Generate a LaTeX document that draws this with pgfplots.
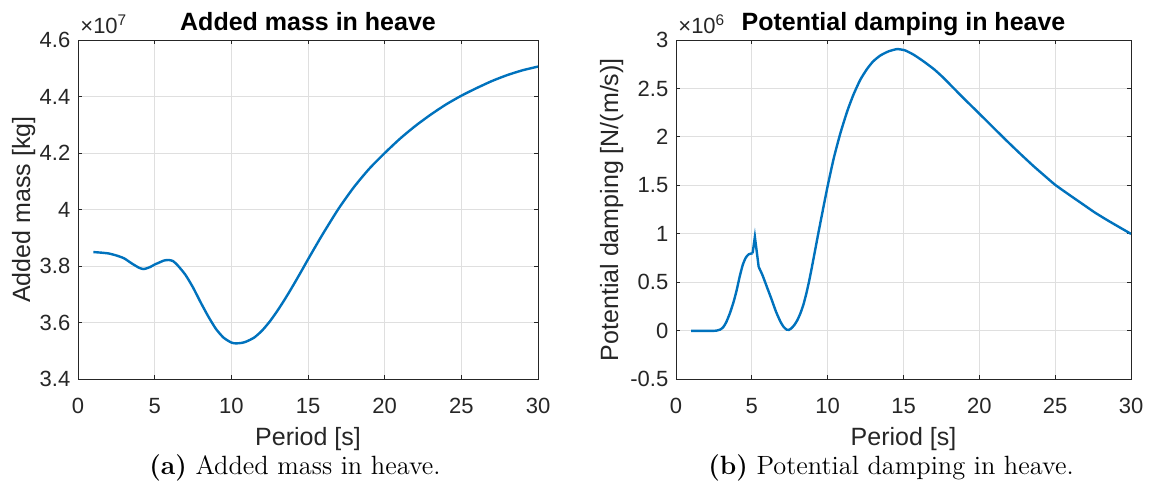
\documentclass[border=0pt]{standalone}
\usepackage{pgfplots}
\pgfplotsset{compat=1.18}
\usepackage{fontspec}
\newfontfamily\arialfont{Liberation Sans}
\definecolor{mblue}{RGB}{0,114,189}
\definecolor{axgray}{RGB}{38,38,38}
\definecolor{gridgray}{RGB}{223,223,223}
\newcommand{\tickfont}{\arialfont\fontsize{11}{13}\selectfont}
\newcommand{\labfont}{\arialfont\fontsize{12.5}{15}\selectfont}
\pgfplotsset{
 mstyle/.style={
  scale only axis, height=169.65pt,
  anchor=south west,
  xmin=0, xmax=30, xtick={0,5,10,15,20,25,30},
  axis line style={axgray, line width=0.5pt},
  tick style={axgray, line width=0.5pt}, major tick length=2.2pt,
  tick align=inside,
  grid=major, grid style={gridgray, line width=0.5pt},
  /pgf/number format/assume math mode=true,
  scaled ticks=false,
  tick label style={font=\tickfont, text=axgray},
  xticklabel style={anchor=base, yshift=-16.85pt},
  yticklabel style={anchor=east, inner sep=0pt, xshift=-3.65pt},
  every axis x label/.style={at={(rel axis cs:0.5,0)}, anchor=base, yshift=-32.9pt, font=\labfont, text=axgray},
  every axis y label/.style={at={(rel axis cs:0,0.5)}, rotate=90, anchor=base, font=\labfont, text=axgray},
  every axis title/.style={at={(rel axis cs:0.5,1)}, anchor=base, yshift=4.65pt, font=\arialfont\bfseries\fontsize{12.5}{15}\selectfont},
  clip mode=individual,
 }
}
\begin{document}
\begin{tikzpicture}
\useasboundingbox (0,0) rectangle (574.5pt,244pt);
\begin{axis}[mstyle, width=230pt, at={(39pt,54.35pt)},
  ymin=3.4, ymax=4.6, ytick={3.4,3.6,3.8,4,4.2,4.4,4.6},
  title={Added mass in heave}, xlabel={Period [s]}, ylabel={Added mass [kg]},
  ylabel style={yshift=24pt}]
\addplot[mblue, line width=1.2pt, smooth, tension=0.4] table {
1 3.850
1.5 3.848
2 3.845
2.5 3.838
3 3.828
3.5 3.810
4 3.794
4.3 3.790
4.7 3.797
5 3.806
5.3 3.813
5.6 3.820
5.9 3.822
6.2 3.818
6.5 3.803
7 3.770
7.5 3.725
8 3.672
8.5 3.622
9 3.578
9.5 3.547
10 3.530
10.3 3.527
10.7 3.529
11 3.534
11.5 3.548
12 3.572
12.5 3.604
13 3.642
13.5 3.684
14 3.729
14.5 3.776
15 3.824
15.5 3.871
16 3.917
17 4.004
18 4.080
19 4.145
20 4.200
21 4.251
22 4.296
23 4.336
24 4.372
25 4.403
26 4.430
27 4.455
28 4.476
29 4.493
30 4.506
};
\node[anchor=base west, font=\tickfont, text=axgray, inner sep=0pt] at (rel axis cs:0,1) [xshift=1pt, yshift=3.5pt] {×10\textsuperscript{7}};
\end{axis}
\begin{axis}[mstyle, width=227.5pt, at={(338pt,54.35pt)},
  ymin=-0.5, ymax=3, ytick={-0.5,0,0.5,1,1.5,2,2.5,3},
  title={Potential damping in heave}, xlabel={Period [s]}, ylabel={Potential damping [N/(m/s)]},
  ylabel style={yshift=29pt}]
\addplot[mblue, line width=1.2pt, smooth, tension=0.35] table {
1 0
2.5 0
2.7 0.003
2.9 0.012
3.1 0.035
3.3 0.085
3.55 0.18
3.8 0.30
4.0 0.42
4.2 0.56
4.4 0.68
4.6 0.755
4.8 0.79
5.05 0.80
};
\addplot[mblue, line width=1.2pt] table {
5.05 0.80
5.2 0.97
5.45 0.66
};
\addplot[mblue, line width=1.2pt, smooth, tension=0.35] table {
5.45 0.66
5.7 0.575
6.0 0.45
6.3 0.325
6.6 0.195
6.9 0.09
7.1 0.04
7.3 0.012
7.45 0.01
7.6 0.025
7.8 0.06
8.0 0.11
8.2 0.18
8.4 0.27
8.6 0.39
8.8 0.53
9.0 0.69
9.2 0.855
9.4 1.02
9.7 1.26
10.0 1.495
10.4 1.78
10.84 2.04
11.3 2.27
11.71 2.44
12.15 2.59
12.59 2.70
13.0 2.78
13.47 2.84
14.0 2.882
14.57 2.906
15.1 2.893
15.67 2.848
16.3 2.782
17.0 2.70
17.6 2.615
18.3 2.504
19.1 2.378
20.0 2.240
20.9 2.100
21.82 1.958
22.7 1.826
23.58 1.698
24.3 1.600
25 1.506
26 1.395
26.88 1.30
27.6 1.222
28.4 1.145
29.2 1.072
30 1.0
};
\node[anchor=base west, font=\tickfont, text=axgray, inner sep=0pt] at (rel axis cs:0,1) [xshift=1pt, yshift=3.5pt] {×10\textsuperscript{6}};
\end{axis}
\node[anchor=base, font=\fontsize{13.2}{16}\selectfont] at (147.5pt,7pt) {\textbf{(a)} Added mass in heave.};
\node[anchor=base, font=\fontsize{13.2}{16}\selectfont] at (445.5pt,7pt) {\textbf{(b)} Potential damping in heave.};
\end{tikzpicture}
\end{document}
